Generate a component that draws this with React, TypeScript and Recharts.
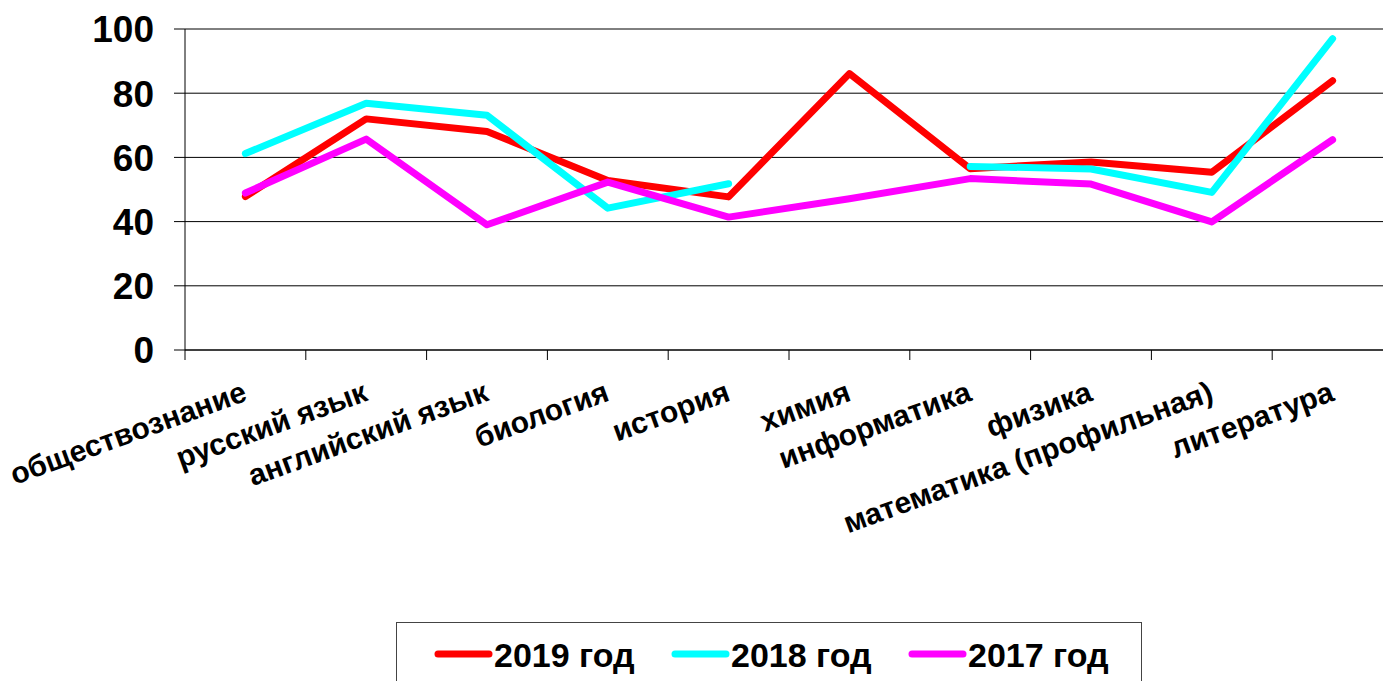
import React from 'react'
import { LineChart, Line, XAxis, YAxis, CartesianGrid, Legend } from 'recharts'

// Subjects on the category axis
const subjects = [
  'обществознание',
  'русский язык',
  'английский язык',
  'биология',
  'история',
  'химия',
  'информатика',
  'физика',
  'математика (профильная)',
  'литература',
]

// Average results by year (2018 has no chemistry value)
const results2019 = [47.8, 72.0, 68.1, 52.8, 47.7, 86.1, 56.5, 58.6, 55.4, 83.9]
const results2018 = [61.2, 76.9, 73.1, 44.2, 51.8, null, 57.2, 56.4, 49.1, 97.0]
const results2017 = [48.9, 65.7, 39.0, 52.3, 41.4, 47.1, 53.4, 51.7, 39.9, 65.5]

const yTicks = [0, 20, 40, 60, 80, 100]

const seriesList = [
  { key: 'y2019', name: '2019 год', color: '#FF0000' },
  { key: 'y2018', name: '2018 год', color: '#00FFFF' },
  { key: 'y2017', name: '2017 год', color: '#FF00FF' },
]

const data = subjects.map((name, i) => ({
  name,
  y2019: results2019[i],
  y2018: results2018[i],
  y2017: results2017[i],
}))

const FONT = "'Liberation Sans', Arial, sans-serif"
const CHART_W = 1400
const CHART_H = 681
const MARGIN = { top: 29, right: 7, left: 0, bottom: 0 }
const Y_AXIS_W = 185
const STEP = (CHART_W - MARGIN.left - MARGIN.right - Y_AXIS_W) / subjects.length

const YTick = ({ x, y, payload }: any) => (
  <text
    x={x}
    y={y}
    dy="0.36em"
    textAnchor="end"
    fontFamily={FONT}
    fontWeight="bold"
    fontSize={37}
    fill="#000"
  >
    {payload.value}
  </text>
)

// category label plus tick marks between categories
const XTick = ({ x, y, payload, index }: any) => {
  const lx = x + 3
  const ly = y + 50
  return (
    <g>
      <line x1={x - STEP / 2} y1={y} x2={x - STEP / 2} y2={y + 10} stroke="#000" strokeWidth={1} />
      {index === subjects.length - 1 && (
        <line x1={x + STEP / 2} y1={y} x2={x + STEP / 2} y2={y + 10} stroke="#000" strokeWidth={1} />
      )}
      <text
        x={lx}
        y={ly}
        textAnchor="end"
        transform={`rotate(-20, ${lx}, ${ly})`}
        fontFamily={FONT}
        fontWeight="bold"
        fontSize={30}
        fill="#000"
      >
        {payload.value}
      </text>
    </g>
  )
}

const renderLegend = () => (
  <svg width={760} height={90} style={{ display: 'block' }}>
    <rect x={0.5} y={0.5} width={745} height={100} fill="#fff" stroke="#444" strokeWidth={1} />
    {seriesList.map((s, i) => {
      const lx = 39 + i * 237
      return (
        <g key={s.key}>
          <line
            x1={lx + 3}
            y1={32}
            x2={lx + 54}
            y2={32}
            stroke={s.color}
            strokeWidth={7}
            strokeLinecap="round"
          />
          <text
            x={lx + 59}
            y={45}
            fontFamily={FONT}
            fontWeight="bold"
            fontSize={34}
            fill="#000"
          >
            {s.name}
          </text>
        </g>
      )
    })}
  </svg>
)

export default function App() {
  return (
    <div
      style={{
        position: 'absolute',
        left: 0,
        top: 0,
        width: 1383,
        height: CHART_H,
        overflow: 'hidden',
        background: '#fff',
      }}
    >
      <LineChart width={CHART_W} height={CHART_H} data={data} margin={MARGIN}>
        <CartesianGrid vertical={false} stroke="#000" strokeWidth={1} />
        <XAxis
          dataKey="name"
          scale="band"
          interval={0}
          height={331}
          axisLine={{ stroke: '#000', strokeWidth: 1 }}
          tickLine={false}
          tickSize={0}
          tickMargin={0}
          tick={<XTick />}
        />
        <YAxis
          width={Y_AXIS_W}
          domain={[0, 100]}
          ticks={yTicks}
          interval={0}
          axisLine={{ stroke: '#000', strokeWidth: 1 }}
          tickLine={{ stroke: '#000', strokeWidth: 1 }}
          tickSize={11}
          tickMargin={20}
          tick={<YTick />}
        />
        <Legend
          layout="vertical"
          align="center"
          verticalAlign="middle"
          wrapperStyle={{ left: 396, top: 622, width: 760, height: 90 }}
          content={renderLegend}
        />
        {seriesList.map((s) => (
          <Line
            key={s.key}
            type="linear"
            dataKey={s.key}
            name={s.name}
            stroke={s.color}
            strokeWidth={7}
            strokeLinejoin="round"
            strokeLinecap="round"
            dot={false}
            activeDot={false}
            connectNulls={false}
            isAnimationActive={false}
          />
        ))}
      </LineChart>
    </div>
  )
}
